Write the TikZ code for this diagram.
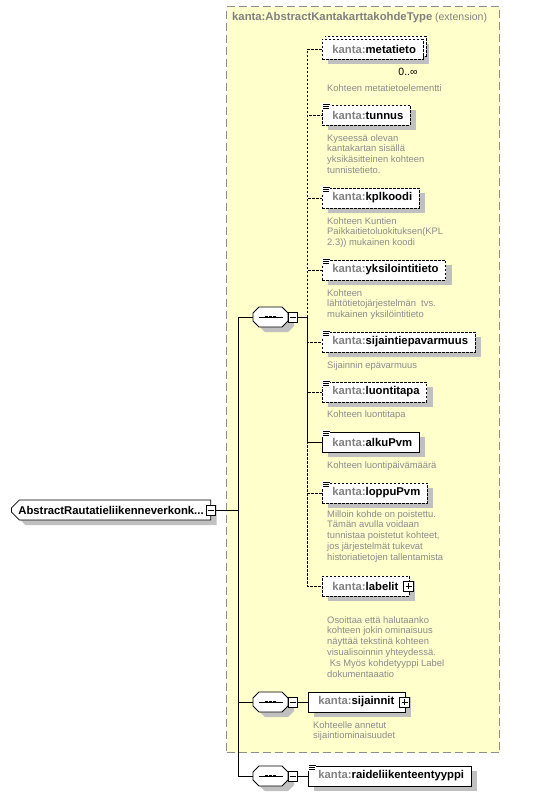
\documentclass[tikz,border=0pt]{standalone}
\usepackage{fontspec}
\setmainfont{Liberation Sans}
\usetikzlibrary{shadows,shapes.misc}
\definecolor{ybg}{HTML}{FFFFCC}
\definecolor{ybord}{HTML}{8C8C8C}
\definecolor{shad}{HTML}{C0C0C0}
\definecolor{prefc}{HTML}{808080}
\definecolor{descc}{HTML}{8A8A8A}
\newcommand{\elemfont}{\fontsize{11.3}{13}\selectfont\bfseries}
\newcommand{\descfont}{\fontsize{9.4}{10.8}\selectfont}
\newcommand{\kn}[1]{\kern3pt{\color{prefc}kanta:}#1}
\newcommand{\annot}[1]{%
  \fill[white] (#1.north west) ++(-0.6,-1.2) rectangle ++(9,6.6);
  \draw[line width=0.7pt] (#1.north west) ++(1,-0.3) -- ++(6.5,0);
  \draw[line width=0.7pt] (#1.north west) ++(1,1.7) -- ++(5.5,0);
  \draw[line width=0.7pt] (#1.north west) ++(1,3.7) -- ++(5.5,0);}
\newcommand{\octpath}[3]{([shift={(-11.5+#2,-10+#3)}]#1.center) -- ([shift={(11.5+#2,-10+#3)}]#1.center)
  -- ([shift={(17.5+#2,-4+#3)}]#1.center) -- ([shift={(17.5+#2,4+#3)}]#1.center)
  -- ([shift={(11.5+#2,10+#3)}]#1.center) -- ([shift={(-11.5+#2,10+#3)}]#1.center)
  -- ([shift={(-17.5+#2,4+#3)}]#1.center) -- ([shift={(-17.5+#2,-4+#3)}]#1.center) -- cycle}
\newcommand{\compdraw}[1]{%
  \fill[shad] \octpath{#1}{6}{5};
  \draw[line width=0.8pt, fill=white] \octpath{#1}{0}{0};
  \draw[line width=0.8pt] (#1.center) ++(-12,0) -- ++(24,0);
  \fill (#1.center) ++(-5.5,-1.3) rectangle ++(2.6,2.6);
  \fill (#1.center) ++(-1.3,-1.3) rectangle ++(2.6,2.6);
  \fill (#1.center) ++(2.9,-1.3) rectangle ++(2.6,2.6);}
\newcommand{\minusglyph}[1]{\draw[line width=0.8pt] (#1.center) ++(-3,0) -- ++(6,0);}
\newcommand{\plusglyph}[1]{%
  \draw[line width=0.8pt] (#1.center) ++(-3,0) -- ++(6,0);
  \draw[line width=0.8pt] (#1.center) ++(0,-3) -- ++(0,6);}
\begin{document}
\begin{tikzpicture}[x=1pt,y=-1pt,
  shd/.style={drop shadow={shadow xshift=6pt, shadow yshift=-5pt, fill=shad, opacity=1}},
  elem/.style={shd, draw=black, fill=white, line width=0.8pt, minimum height=20pt,
    inner xsep=7pt, inner ysep=0pt, anchor=west, font=\elemfont},
  optb/.style={dash pattern=on 2.5pt off 1.5pt},
  conn/.style={line width=0.8pt, draw=black},
  desc/.style={anchor=north west, inner sep=0pt, align=left, font=\descfont, text=descc},
  comp/.style={minimum width=35pt, minimum height=20pt, inner sep=0pt},
  sbox/.style={draw=black, fill=white, line width=0.8pt, minimum width=9pt, minimum height=10pt, inner sep=0pt},
  pbox/.style={draw=black, fill=white, line width=0.8pt, minimum width=10pt, minimum height=10pt, inner sep=0pt}
]
\useasboundingbox (0,0) rectangle (542,795);
\fill[white] (0,0) rectangle (542,795);
% extension area
\node[draw=ybord, fill=ybg, line width=1.2pt, dash pattern=on 8pt off 4pt, anchor=north west,
  minimum width=273pt, minimum height=746pt, inner sep=0pt] (ext) at (226,6) {};
\node[anchor=west, inner sep=0pt, text=prefc] (title) at (232,18)
  {{\fontsize{11.3}{13}\selectfont\bfseries kanta:AbstractKantakarttakohdeType} {\fontsize{10.5}{13}\selectfont(extension)}};

% compositors
\node[comp] (c1) at (270.5,317) {};
\node[comp] (c2) at (270.5,702) {};
\node[comp] (c3) at (270.5,776) {};
\compdraw{c1}\compdraw{c2}\compdraw{c3}
\node[sbox] (c1m) at (292.5,317) {};
\node[sbox] (c2m) at (292.5,702) {};
\node[sbox] (c3m) at (292.5,776) {};
\minusglyph{c1m}\minusglyph{c2m}\minusglyph{c3m}

% elements
\node[elem, optb, copy shadow={shadow xshift=3pt, shadow yshift=3pt, fill=white, draw=black, line width=0.8pt, dash pattern=on 2.5pt off 1.5pt}] (metatieto) at (322,49) {\kn{metatieto}};
\node[elem, optb] (tunnus) at (322,115) {\kn{tunnus}};
\node[elem, optb] (kplkoodi) at (322,198) {\kn{kplkoodi}};
\node[elem, optb] (yksil) at (322,270) {\kn{yksilointitieto}};
\node[elem, optb] (sijep) at (322,342) {\kn{sijaintiepavarmuus}};
\node[elem, optb] (luonti) at (322,392) {\kn{luontitapa}};
\node[elem] (alku) at (322,442) {\kn{alkuPvm}};
\node[elem, optb] (loppu) at (322,493) {\kn{loppuPvm}};
\node[elem, optb] (labelit) at (322,586) {\kn{labelit}\kern4pt};
\node[elem] (sijainnit) at (308,702) {\kn{sijainnit}\kern4pt};
\node[elem] (raide) at (308,776) {\kn{raideliikenteentyyppi}};
\node[pbox] (labelitp) at ([xshift=-1pt]labelit.east) {};
\node[pbox] (sijainnitp) at ([xshift=-1pt]sijainnit.east) {};
\plusglyph{labelitp}\plusglyph{sijainnitp}
\annot{tunnus}\annot{kplkoodi}\annot{yksil}\annot{sijep}\annot{luonti}\annot{alku}\annot{loppu}\annot{raide}

\node[anchor=center, inner sep=0pt, font=\fontsize{10.5}{12}\selectfont] (occ) at (408,72) {0..∞};

% descriptions
\node[desc] (dmeta) at (327,84) {Kohteen metatietoelementti};
\node[desc] (dtunnus) at (327,134) {Kyseessä olevan\\kantakartan sisällä\\yksikäsitteinen kohteen\\tunnistetieto.};
\node[desc] (dkpl) at (327,217) {Kohteen Kuntien\\Paikkaitietoluokituksen(KPL\\2.3)) mukainen koodi};
\node[desc] (dyks) at (327,289) {Kohteen\\lähtötietojärjestelmän\ \ tvs.\\mukainen yksilöintitieto};
\node[desc] (dsij) at (327,361) {Sijainnin epävarmuus};
\node[desc] (dluo) at (327,410) {Kohteen luontitapa};
\node[desc] (dalku) at (327,461) {Kohteen luontipäivämäärä};
\node[desc] (dloppu) at (327,510) {Milloin kohde on poistettu.\\Tämän avulla voidaan\\tunnistaa poistetut kohteet,\\jos järjestelmät tukevat\\historiatietojen tallentamista};
\node[desc] (dlabel) at (327,616) {Osoittaa että halutaanko\\kohteen jokin ominaisuus\\näyttää tekstinä kohteen\\visualisoinnin yhteydessä.\\\kern2.6pt Ks Myös kohdetyyppi Label\\dokumentaaatio};
\node[desc] (dsijainnit) at (313,721) {Kohteelle annetut\\sijaintiominaisuudet};

% root
\node[shd, chamfered rectangle, chamfered rectangle corners={north west,south west},
  chamfered rectangle xsep=4pt, chamfered rectangle ysep=4pt, draw=black, fill=white,
  line width=0.8pt, minimum height=20pt, inner xsep=3pt, inner ysep=0pt, anchor=west,
  font=\elemfont] (root) at (11,510) {AbstractRautatieliikenneverkonk...};
\node[sbox] (rootm) at ([xshift=-0.5pt]root.east) {};
\minusglyph{rootm}

% connectors
\coordinate (j1) at (307,317);
\coordinate (jr) at (238,510);
\draw[conn] (c1m.east) -- (j1);
\foreach \n in {metatieto,tunnus,kplkoodi,yksil,sijep,luonti,loppu,labelit}
  \draw[conn, optb] (j1) |- (\n.west);
\draw[conn] (j1) |- (alku.west);
\draw[conn] (c2m.east) -- (sijainnit.west);
\draw[conn] (c3m.east) -- (raide.west);
\draw[conn] (rootm.east) -- (jr);
\draw[conn] (jr) |- (c1.west);
\draw[conn] (jr) |- (c2.west);
\draw[conn] (jr) |- (c3.west);
\end{tikzpicture}
\end{document}
